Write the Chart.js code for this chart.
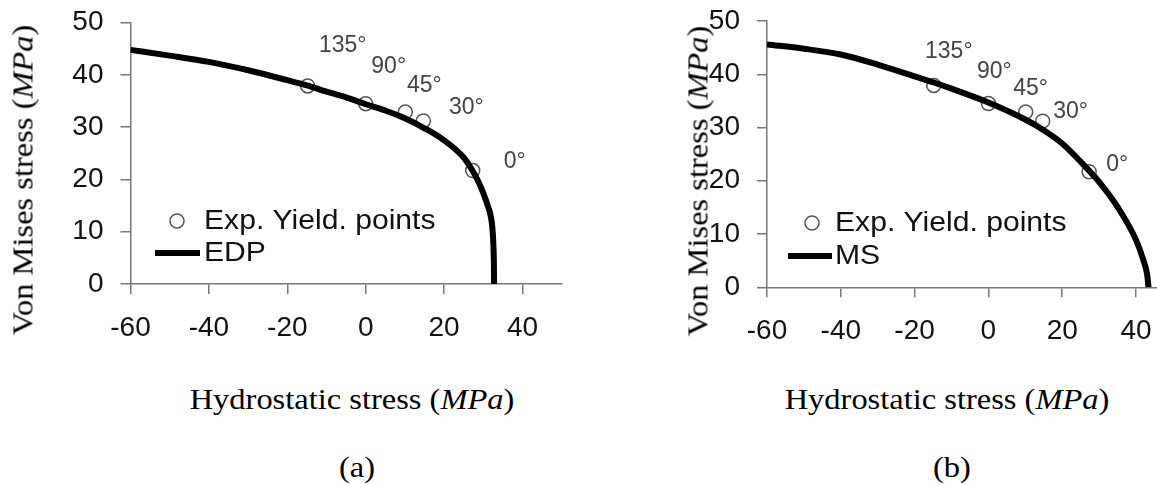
<!DOCTYPE html>
<html>
<head>
<meta charset="utf-8">
<script src="https://cdn.jsdelivr.net/npm/chart.js@4.4.1/dist/chart.umd.min.js"></script>
<style>
  body { margin: 0; width: 1157px; height: 485px; overflow: hidden; background: #fff; position: relative; }
  .panel { position: absolute; top: 0; height: 360px; overflow: hidden; }
  .txt { position: absolute; font-family: 'Liberation Serif', 'Times New Roman', serif; font-size: 29px; line-height: normal; color: #000; white-space: nowrap; transform: translate(-50%, -50%) scaleX(1.12); }
  .rot { transform: translate(-50%, -50%) rotate(-90deg) scaleX(1.12); }
</style>
</head>
<body>
<div class="panel" style="left:0;width:580px"><canvas id="chartA" width="580" height="360"></canvas></div>
<div class="panel" style="left:580px;width:577px"><canvas id="chartB" width="600" height="360"></canvas></div>

<div class="txt rot" style="left:23px;top:180px">Von Mises stress (<i>MPa</i>)</div>
<div class="txt" style="left:352px;top:399px">Hydrostatic stress (<i>MPa</i>)</div>
<div class="txt" style="left:357px;top:467px">(a)</div>
<div class="txt rot" style="left:698px;top:181px">Von Mises stress (<i>MPa</i>)</div>
<div class="txt" style="left:947px;top:399px">Hydrostatic stress (<i>MPa</i>)</div>
<div class="txt" style="left:952px;top:467px">(b)</div>

<script>
// experimental yield points (same in both panels)
const angleLabels = ['135°', '90°', '45°', '30°', '0°'];
const expX = [-14.8, 0, 10.1, 14.7, 27.3];
const expY = [37.9, 34.5, 32.9, 31.2, 21.7];

// EDP criterion curve, panel (a)
const edpX = [-60, -50, -40, -30, -20, -15, -10, -5, 0, 5, 10, 15, 20, 25, 27, 28, 29, 30, 31, 32, 32.4, 32.6, 32.7, 32.75];
const edpY = [44.8, 43.7, 42.5, 40.9, 39.0, 38.0, 36.8, 35.7, 34.4, 33.2, 31.7, 29.8, 27.5, 24.2, 22.0, 20.7, 19.2, 17.4, 15.3, 12.6, 10.0, 7.0, 4.0, 0];

// MS criterion curve, panel (b)
const msX = [-60, -50, -40, -30, -20, -15, -10, 0, 10, 15, 20, 27.3, 30, 35, 40, 42, 43, 43.4];
const msY = [45.6, 44.8, 43.7, 41.8, 39.6, 38.5, 37.3, 34.7, 31.5, 29.5, 27.0, 21.9, 19.8, 15.1, 8.9, 5.1, 2.5, 0];

const xTicks = [-60, -40, -20, 0, 20, 40];

const overlay = {
  id: 'overlay',
  afterDatasetsDraw(chart, args, opts) {
    const { ctx } = chart;
    const xs = chart.scales.x;
    const ys = chart.scales.y;
    ctx.save();

    // angle labels beside the points
    ctx.font = '23px "Liberation Sans", Arial, sans-serif';
    ctx.fillStyle = '#444';
    ctx.textAlign = 'center';
    ctx.textBaseline = 'middle';
    angleLabels.forEach((t, i) => {
      const off = opts.labelOffsets[i];
      ctx.fillText(t, xs.getPixelForValue(expX[i]) + off[0], ys.getPixelForValue(expY[i]) + off[1]);
    });

    // legend inside the plot
    ctx.font = '27px "Liberation Sans", Arial, sans-serif';
    ctx.fillStyle = '#111';
    ctx.textAlign = 'left';
    chart.data.datasets.forEach((ds, i) => {
      const row = opts.legendRows[i];
      ctx.strokeStyle = ds.borderColor;
      ctx.lineWidth = ds.borderWidth;
      ctx.beginPath();
      if (ds.showLine) {
        ctx.moveTo(row.x0, row.y);
        ctx.lineTo(row.x1, row.y);
      } else {
        ctx.arc((row.x0 + row.x1) / 2, row.y, ds.pointRadius, 0, Math.PI * 2);
      }
      ctx.stroke();
      ctx.save();
      ctx.translate(row.tx, row.y + 1);
      ctx.scale(1.115, 1);
      ctx.fillText(ds.label, 0, 0);
      ctx.restore();
    });
    ctx.restore();
  }
};

function makeChart(id, curveLabel, cx, cy, axisWidth, pad, labelOffsets, legendRows) {
  return new Chart(document.getElementById(id), {
    type: 'scatter',
    data: {
      datasets: [
        {
          label: 'Exp. Yield. points',
          data: expX.map((v, i) => ({ x: v, y: expY[i] })),
          showLine: false,
          pointRadius: 7,
          pointHoverRadius: 7,
          borderColor: '#555',
          backgroundColor: 'rgba(0,0,0,0)',
          borderWidth: 1.5,
          order: 1
        },
        {
          label: curveLabel,
          data: cx.map((v, i) => ({ x: v, y: cy[i] })),
          showLine: true,
          pointRadius: 0,
          borderColor: '#000',
          borderWidth: 6,
          cubicInterpolationMode: 'monotone',
          order: 0
        }
      ]
    },
    options: {
      responsive: false,
      animation: false,
      events: [],
      layout: { autoPadding: false, padding: pad },
      plugins: {
        legend: { display: false },
        tooltip: { enabled: false },
        overlay: { labelOffsets: labelOffsets, legendRows: legendRows }
      },
      scales: {
        x: {
          type: 'linear',
          min: -60,
          max: 50,
          afterBuildTicks: (scale) => { scale.ticks = xTicks.map(v => ({ value: v })); },
          afterFit: (scale) => {
            scale.height = 60;
            scale.paddingLeft = 0;
            scale.paddingRight = 0;
          },
          border: { color: '#777', width: 1.5 },
          grid: { drawOnChartArea: false, color: '#777', lineWidth: 1.5, tickLength: 10 },
          ticks: {
            autoSkip: false,
            maxRotation: 0,
            padding: 17,
            color: '#111',
            font: { family: 'Liberation Sans', size: 28 }
          }
        },
        y: {
          min: 0,
          max: 50,
          afterFit: (scale) => {
            // fixed axis box, no extra room for the top label
            scale.width = axisWidth;
            scale.paddingTop = 0;
            scale.paddingBottom = 0;
          },
          border: { color: '#777', width: 1.5 },
          grid: { drawOnChartArea: false, color: '#777', lineWidth: 1.5, tickLength: 10 },
          ticks: {
            stepSize: 10,
            padding: 17,
            color: '#111',
            font: { family: 'Liberation Sans', size: 28 }
          }
        }
      }
    },
    plugins: [overlay]
  });
}

makeChart('chartA', 'EDP', edpX, edpY, 130.5,
  { left: 0, top: 22.7, right: 18.3, bottom: 16 },
  [[35, -40], [23, -37], [19, -26], [43, -13], [42, -9]],
  [
    { x0: 170, x1: 184, y: 221, tx: 204 },
    { x0: 155, x1: 200, y: 253, tx: 204 }
  ]);

makeChart('chartB', 'MS', msX, msY, 187,
  { left: 0, top: 21, right: 7.1, bottom: 12.7 },
  [[15, -34], [6, -32], [5, -23], [28, -9], [28, -7]],
  [
    { x0: 225, x1: 239, y: 223, tx: 255 },
    { x0: 208, x1: 252, y: 256, tx: 255 }
  ]);
</script>
</body>
</html>
